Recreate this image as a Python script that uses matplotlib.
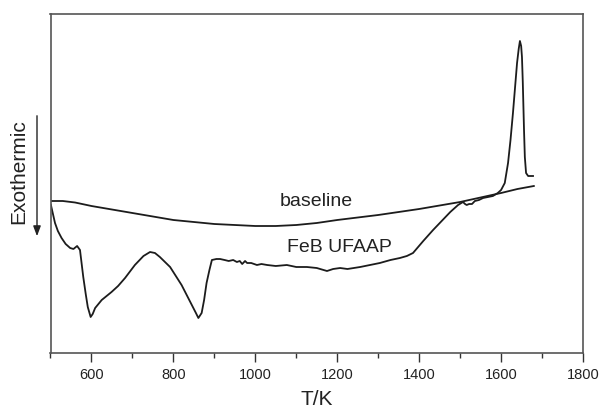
import matplotlib
matplotlib.use("Agg")
import matplotlib.pyplot as plt

plt.rcParams['font.family'] = ['Liberation Sans', 'DejaVu Sans']

# Baseline curve (T in K, signal in arbitrary units, up = endothermic-ish)
base_T = [500, 530, 560, 600, 650, 700, 750, 800, 850, 900, 950, 1000, 1050,
          1100, 1150, 1200, 1250, 1300, 1350, 1400, 1450, 1500, 1550, 1600,
          1640, 1680]
base_y = [151, 151, 149.5, 146, 142.5, 139, 135.5, 132, 130, 128, 127, 126, 126,
          127, 129, 132, 134.5, 137, 140, 143, 146.5, 150, 154.5, 159,
          163, 166]

# FeB UFAAP DTA curve
feb_T = [501, 506, 511, 518, 527, 537, 548, 556, 565, 572, 580, 586, 591, 598,
         603, 609, 625, 649, 665, 682, 706, 727, 743, 755, 767, 792, 820, 845,
         855, 861, 869, 875, 881, 888, 894, 905, 914, 925, 935, 946, 955, 962,
         968, 975, 980, 990, 1004, 1015, 1029, 1050, 1077, 1100, 1126, 1150,
         1175, 1190, 1207, 1225, 1256, 1280, 1304, 1330, 1353, 1370, 1385,
         1410, 1434, 1455, 1476, 1495, 1507, 1512, 1516, 1522, 1529, 1536,
         1546, 1556, 1568, 1580, 1592, 1600, 1609, 1617, 1623, 1629, 1634,
         1639, 1643, 1646, 1649, 1651, 1653, 1656, 1658, 1661, 1666, 1671,
         1678]
feb_y = [147, 138, 129, 121, 114, 108, 104, 103, 106, 102, 75, 58, 45, 35,
         38, 44, 52, 60, 66, 74, 87, 96, 100, 99, 95, 85, 67, 47,
         39, 34, 39, 52, 69, 82, 92, 93, 93, 92, 91, 92, 90, 91,
         88, 91, 89, 89, 87, 88, 87, 86, 87, 85, 85, 84,
         81, 83, 84, 83, 85, 87, 89, 92, 94, 96, 99,
         111, 122, 131, 140, 147, 150, 148, 147, 148, 148, 151,
         152, 154, 155, 156, 159, 162, 169, 189, 212, 239, 264,
         289, 303, 311, 306, 295, 270, 222, 195, 179, 176, 176,
         176]

x_major = [600, 800, 1000, 1200, 1400, 1600, 1800]
x_minor = [500, 700, 900, 1100, 1300, 1500, 1700]

fig = plt.figure(figsize=(6.02, 4.09), dpi=100)
ax = fig.add_axes([50.5 / 602, 1 - 353 / 409, (583 - 50.5) / 602, 339 / 409])

line_color = '#1c1c1c'
ax.plot(base_T, base_y, color=line_color, lw=1.3)
ax.plot(feb_T, feb_y, color=line_color, lw=1.3)

ax.set_xlim(500, 1800)
ax.set_ylim(-1, 338)
ax.set_xticks(x_major)
ax.set_xticks(x_minor, minor=True)
ax.set_yticks([])
ax.tick_params(axis='x', which='major', direction='out', length=6.5, width=1.0,
               labelsize=10.5, pad=4, colors='#333333', labelcolor='#222222')
ax.tick_params(axis='x', which='minor', direction='out', length=3.5, width=1.0,
               colors='#333333')
for s in ax.spines.values():
    s.set_color('#555555')
    s.set_linewidth(1.2)

ax.text(1148, 150, 'baseline', ha='center', va='center', fontsize=14,
        color='#222222')
ax.text(1205, 104, 'FeB UFAAP', ha='center', va='center', fontsize=14,
        color='#222222')

ax.set_xlabel('T/K', fontsize=15, color='#222222', labelpad=6)

fig.text(18.5 / 602, 1 - 171.5 / 409, 'Exothermic', rotation=90, ha='center',
         va='center', fontsize=15, color='#222222')
fig.patches.append(matplotlib.patches.FancyArrowPatch(
    (37 / 602, 1 - 113 / 409), (37 / 602, 1 - 239 / 409),
    transform=fig.transFigure, arrowstyle='-|>,head_length=4,head_width=1.5',
    color='#222222', lw=1.0, mutation_scale=1.5))

fig.savefig('out.png', dpi=100)
